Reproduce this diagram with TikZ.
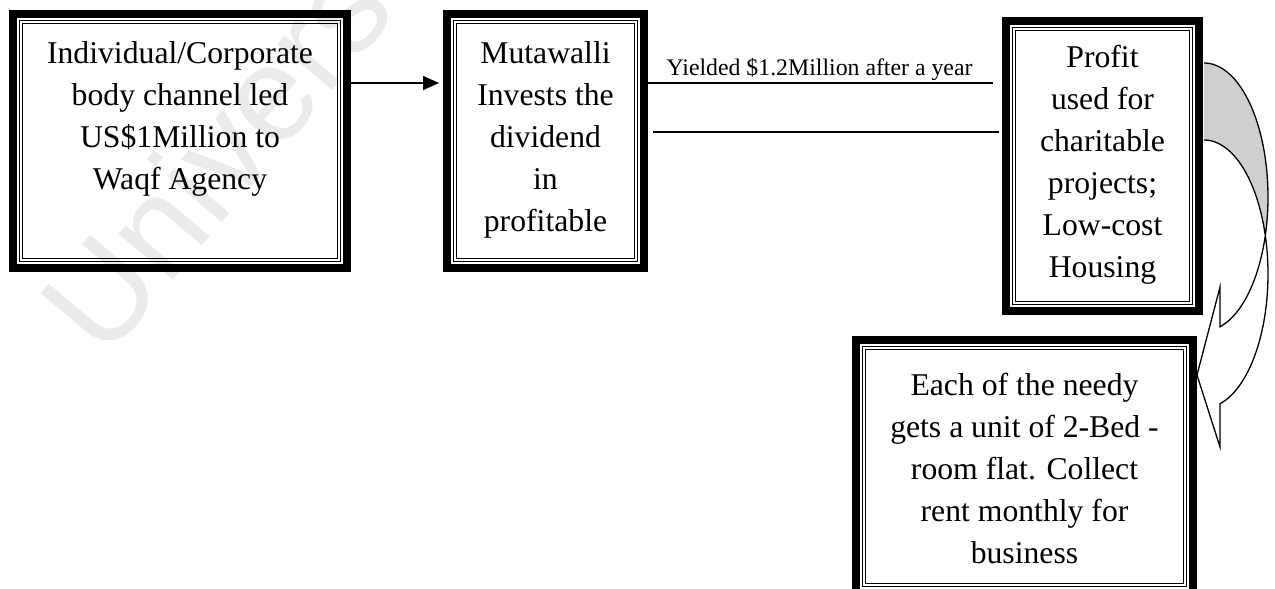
\documentclass[tikz,border=0pt]{standalone}
\usepackage{fontspec}
\setmainfont{Liberation Serif}
\newfontfamily\wmfont{Liberation Sans}
\usetikzlibrary{arrows.meta}
\newcommand\tripframe[1]{%
  \draw[line width=8pt] ([shift={(4,4)}]#1.north west) rectangle ([shift={(-4,-4)}]#1.south east);
  \draw[line width=1.5pt] ([shift={(10.5,10.5)}]#1.north west) rectangle ([shift={(-10.5,-10.5)}]#1.south east);
  \draw[line width=1.5pt] ([shift={(13.5,13.5)}]#1.north west) rectangle ([shift={(-13.5,-13.5)}]#1.south east);
}
\begin{document}
\begin{tikzpicture}[x=1pt,y=-1pt,
  frame/.style={inner sep=0pt, outer sep=0pt},
  txt/.style={inner sep=0pt, align=center, font=\fontsize{31.7}{42}\selectfont},
  lbl/.style={inner sep=0pt, font=\fontsize{23.8}{28}\selectfont},
  wm/.style={inner sep=0pt, text=black!8, font=\wmfont\fontsize{135}{135}\selectfont},
  conn/.style={line width=1.5pt},
  back/.style={fill=black!19},
  outline/.style={line width=1.3pt, line join=miter}
]
\useasboundingbox (0,0) rectangle (1275,589);
\clip (0,0) rectangle (1275,589);
% watermark
\node[wm, rotate=50, anchor=base west] (wmk) at (105,362) {Univers};
% boxes
\node[frame, minimum width=342pt, minimum height=262pt, anchor=north west] (b1) at (9,10) {};
\node[frame, minimum width=205pt, minimum height=262pt, anchor=north west] (b2) at (443,10) {};
\node[frame, minimum width=201pt, minimum height=298pt, anchor=north west] (b3) at (1002,17) {};
\node[frame, minimum width=345pt, minimum height=261pt, anchor=north west] (b4) at (852,336) {};
\tripframe{b1}
\tripframe{b2}
\tripframe{b3}
\tripframe{b4}
% texts
\node[txt, anchor=north] (t1) at ([shift={(0,23.6)}]b1.north) {\strut Individual/Corporate\\body channel led\\US\$1Million to\\Waqf Agency};
\node[txt, anchor=north] (t2) at ([shift={(0,23.6)}]b2.north) {\strut Mutawalli\\Invests the\\dividend\\in\\profitable};
\node[txt, anchor=north] (t3) at ([shift={(0,20.6)}]b3.north) {\strut Profit\\used for\\charitable\\projects;\\Low-cost\\Housing};
\node[txt, anchor=north] (t4) at ([shift={(0,29.6)}]b4.north) {\strut Each of the needy\\gets a unit of 2-Bed -\\room flat. Collect\\rent monthly for\\business};
% connectors
\draw[conn, -{Triangle[length=16pt,width=14pt]}] ([shift={(-8,73)}]b1.north east) -- ([shift={(-4,73)}]b2.north west);
\draw[conn] ([shift={(-1,73)}]b2.north east) -- ([shift={(-9,66)}]b3.north west);
\draw[conn] ([shift={(5,122)}]b2.north east) -- ([shift={(-3,115)}]b3.north west);
\node[lbl, anchor=base] (yl) at (819.5,75) {Yielded \$1.2Million after a year};
% curved arrow from b3 to b4
\fill[back] plot[domain=-90:16.7,samples=40] ({1204+64*cos(\x)},{197+134*sin(\x)})
  -- plot[domain=-16.7:-90,samples=40] ({1204+64*cos(\x)},{274+134*sin(\x)}) -- cycle;
\fill[white] plot[domain=16.7:75.5,samples=40] ({1204+64*cos(\x)},{197+134*sin(\x)})
  -- (1220,287) -- (1197,375) -- (1220,447)
  -- plot[domain=75.5:-16.7,samples=40] ({1204+64*cos(\x)},{274+134*sin(\x)}) -- cycle;
\draw[outline] plot[domain=-90:75.5,samples=80] ({1204+64*cos(\x)},{197+134*sin(\x)})
  -- (1220,287) -- (1197,375) -- (1220,447)
  -- plot[domain=75.5:-90,samples=80] ({1204+64*cos(\x)},{274+134*sin(\x)});
\end{tikzpicture}
\end{document}
